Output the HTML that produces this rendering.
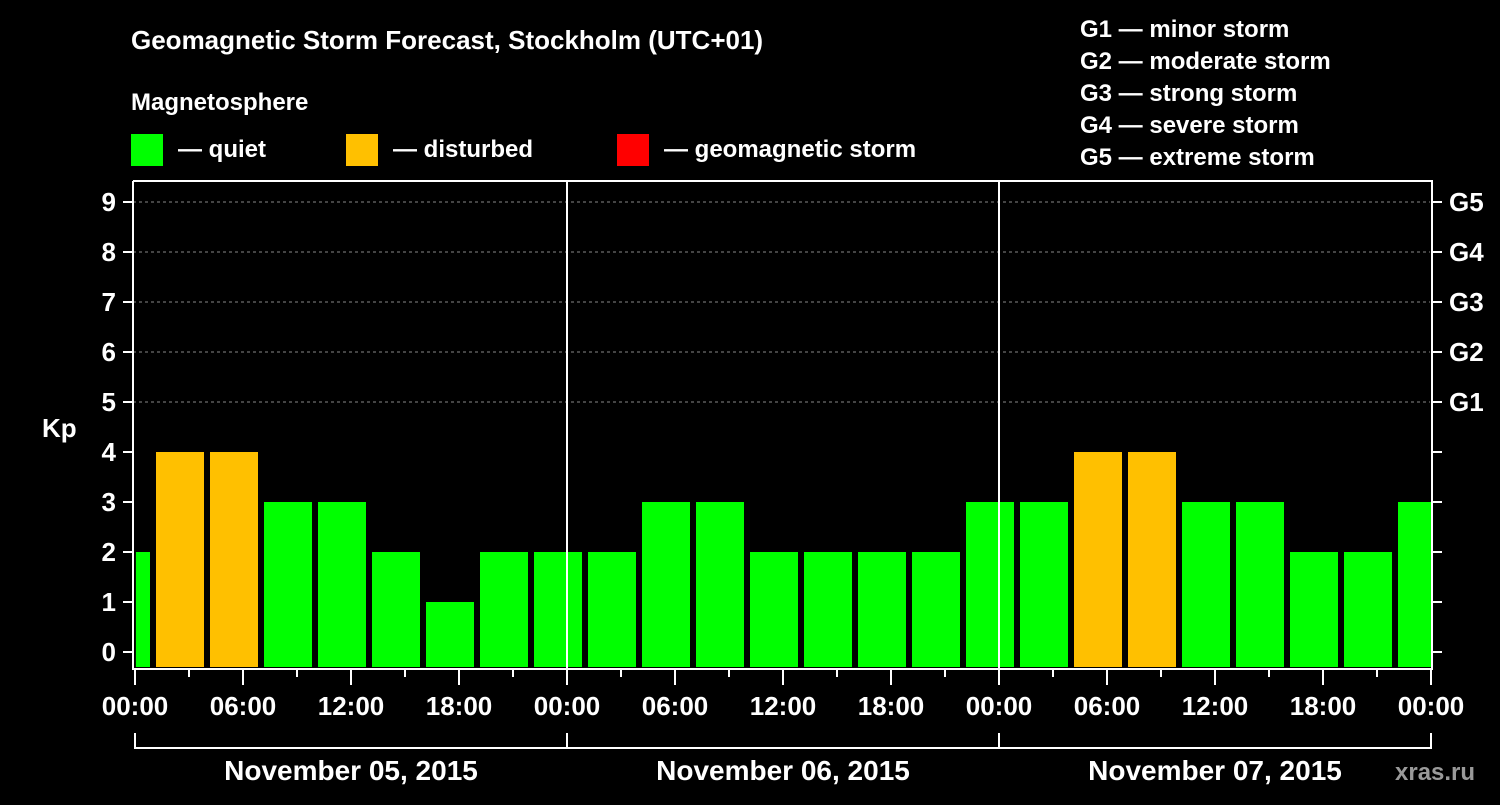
<!DOCTYPE html>
<html><head><meta charset="utf-8"><style>
body{margin:0;background:#000;}
svg text{font-family:"Liberation Sans",sans-serif;font-weight:bold;fill:#fff;}
</style></head><body>
<svg id="c" width="1500" height="800" xmlns="http://www.w3.org/2000/svg">
<rect width="1500" height="800" fill="#000"/>
<text x="131" y="49" font-size="26">Geomagnetic Storm Forecast, Stockholm (UTC+01)</text>
<text x="131" y="110" font-size="24">Magnetosphere</text>
<g><rect x="131" y="134" width="32" height="32" fill="#00ff00"/><text x="178" y="157" font-size="24">— quiet</text></g>
<g><rect x="346" y="134" width="32" height="32" fill="#ffc000"/><text x="393" y="157" font-size="24">— disturbed</text></g>
<g><rect x="617" y="134" width="32" height="32" fill="#ff0000"/><text x="664" y="157" font-size="24">— geomagnetic storm</text></g>
<g font-size="24">
<text x="1080" y="37">G1 — minor storm</text>
<text x="1080" y="69">G2 — moderate storm</text>
<text x="1080" y="101">G3 — strong storm</text>
<text x="1080" y="133">G4 — severe storm</text>
<text x="1080" y="165">G5 — extreme storm</text>
</g>
<g id="plot"></g>
<text x="1395" y="780" font-size="24" fill="#999" style="fill:#9a9a9a">xras.ru</text>
</svg>
<script>
const values=[2,4,4,3,3,2,1,2,2,2,3,3,2,2,2,2,3,3,4,4,3,3,2,2,3];
const firstBinStartHour=-2;
const binHours=3;
const dayLabels=["November 05, 2015","November 06, 2015","November 07, 2015"];
const hourTicks=["00:00","06:00","12:00","18:00"];
const gLabels=["G1","G2","G3","G4","G5"];

const NS="http://www.w3.org/2000/svg";
const g=document.getElementById('plot');
const X0=135,PXH=18,TOTAL=72;
const xs=h=>X0+h*PXH;
const ys=v=>652-v*50;
function mk(t,a,p){const e=document.createElementNS(NS,t);for(const k in a)e.setAttribute(k,a[k]);(p||g).appendChild(e);return e;}
// grid
for(let v=5;v<=9;v++){const l=mk('line',{x1:133,x2:1430,y1:ys(v),y2:ys(v),stroke:'#888','stroke-dasharray':'3,3','stroke-width':1});

}
// bars
values.forEach((v,i)=>{
  let s=firstBinStartHour+i*binHours+1/6, e=firstBinStartHour+(i+1)*binHours-1/6;
  s=Math.max(s,0.05); e=Math.min(e,TOTAL);
  const col=v>=5?'#ff0000':(v>=4?'#ffc000':'#00ff00');
  const r=mk('rect',{x:xs(s),y:ys(v),width:xs(e)-xs(s),height:ys(-0.3)-ys(v),fill:col});
  
  
});
// day separators
for(let d=1;d<3;d++){const l=mk('line',{x1:xs(d*24),x2:xs(d*24),y1:181,y2:669,stroke:'#fff','stroke-width':2});

}
// frame
const fr=mk('path',{d:`M133 181 V669 H1432 V181 H133`,fill:'none',stroke:'#fff','stroke-width':2});


// y ticks
for(let v=0;v<=9;v++){
  mk('line',{x1:123,x2:133,y1:ys(v),y2:ys(v),stroke:'#fff','stroke-width':2});
  mk('line',{x1:1432,x2:1442,y1:ys(v),y2:ys(v),stroke:'#fff','stroke-width':2});
  const t=mk('text',{x:116,y:ys(v)+9,'font-size':26,'text-anchor':'end'});t.textContent=v;
  
  
}
gLabels.forEach((s,i)=>{const t=mk('text',{x:1449,y:ys(5+i)+9,'font-size':26});t.textContent=s;

});
const kp=mk('text',{x:42,y:437,'font-size':26});kp.textContent='Kp';


// x ticks
for(let h=0;h<=TOTAL;h+=3){
  const major=h%6===0;
  mk('line',{x1:xs(h),x2:xs(h),y1:669,y2:major?685:677,stroke:'#fff','stroke-width':2});
  if(major){const t=mk('text',{x:xs(h),y:715,'font-size':26,'text-anchor':'middle'});t.textContent=hourTicks[(h/6)%4];
  
  }
}
// date bracket
mk('path',{d:`M${xs(0)} 733 V748 H${xs(72)} V733 M${xs(24)} 733 V748 M${xs(48)} 733 V748`,fill:'none',stroke:'#fff','stroke-width':2});
dayLabels.forEach((s,i)=>{const t=mk('text',{x:xs(i*24+12),y:780,'font-size':28,'text-anchor':'middle'});t.textContent=s;

});
</script>
</body></html>
